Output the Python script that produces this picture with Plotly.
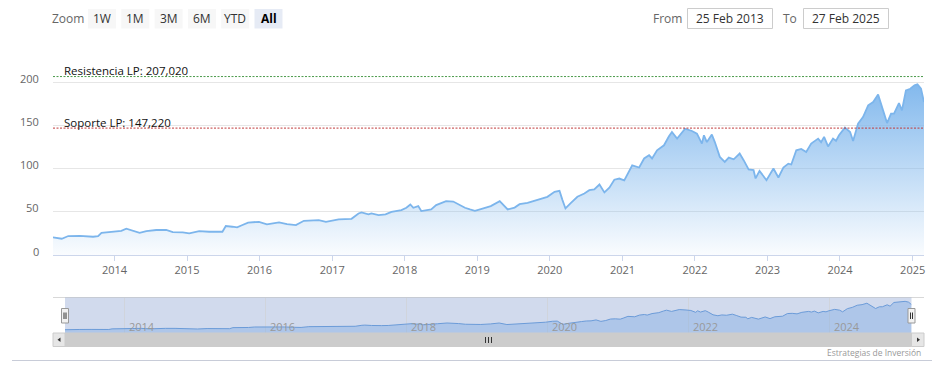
import plotly.graph_objects as go

# ---------------- data ----------------
dates = [
    "2013-02-25", "2013-04-10", "2013-05-13", "2013-07-10", "2013-09-15", "2013-10-10", "2013-10-27",
    "2013-12-24", "2014-02-04", "2014-03-01", "2014-03-26", "2014-05-07", "2014-06-10", "2014-07-30",
    "2014-09-18", "2014-10-21", "2014-12-10", "2015-01-12", "2015-03-03", "2015-04-22", "2015-06-28",
    "2015-07-15", "2015-08-17", "2015-09-10", "2015-10-04", "2015-11-04", "2015-12-29", "2016-02-07",
    "2016-04-08", "2016-05-18", "2016-07-02", "2016-08-11", "2016-10-25", "2016-11-30", "2017-02-02",
    "2017-04-08", "2017-05-13", "2017-05-28", "2017-07-02", "2017-07-17", "2017-08-22", "2017-09-26",
    "2017-10-26", "2017-12-15", "2018-01-09", "2018-01-29", "2018-02-13", "2018-03-10", "2018-03-25",
    "2018-04-19", "2018-05-14", "2018-06-08", "2018-07-28", "2018-09-02", "2018-09-26", "2018-10-31",
    "2018-11-25", "2018-12-20", "2019-01-19", "2019-03-10", "2019-04-24", "2019-06-03", "2019-07-08",
    "2019-08-02", "2019-09-11", "2019-10-16", "2019-11-15", "2019-12-20", "2020-01-25", "2020-02-19",
    "2020-03-05", "2020-03-20", "2020-04-14", "2020-05-19", "2020-06-23", "2020-07-18", "2020-08-12",
    "2020-09-07", "2020-10-02", "2020-10-27", "2020-11-21", "2020-12-16", "2021-01-10", "2021-01-25",
    "2021-02-19", "2021-03-26", "2021-04-20", "2021-05-15", "2021-05-30", "2021-06-24", "2021-07-29",
    "2021-08-23", "2021-09-07", "2021-10-03", "2021-11-12", "2021-12-17", "2022-01-11", "2022-02-05",
    "2022-02-15", "2022-03-02", "2022-03-27", "2022-04-11", "2022-05-06", "2022-05-31", "2022-06-20",
    "2022-07-15", "2022-08-14", "2022-09-03", "2022-09-28", "2022-10-23", "2022-11-02", "2022-11-22",
    "2022-12-27", "2023-01-31", "2023-02-25", "2023-03-22", "2023-04-16", "2023-05-01", "2023-05-26",
    "2023-06-20", "2023-07-15", "2023-08-09", "2023-09-13", "2023-09-28", "2023-10-13", "2023-11-02",
    "2023-11-27", "2023-12-12", "2023-12-27", "2024-01-26", "2024-02-21", "2024-03-07", "2024-04-01",
    "2024-04-26", "2024-05-22", "2024-06-16", "2024-07-11", "2024-08-05", "2024-08-25", "2024-09-14",
    "2024-09-29", "2024-10-24", "2024-11-08", "2024-11-28", "2024-12-20", "2025-01-10", "2025-01-25",
    "2025-02-12", "2025-02-27",
]
prices = [
    20.5, 18.9, 22.0, 22.3, 21.2, 22.0, 25.8,
    27.0, 28.1, 30.5, 29.0, 25.8, 27.8, 29.0,
    29.0, 26.6, 26.2, 25.1, 27.8, 27.0, 27.0,
    33.6, 32.8, 32.0, 34.5, 37.6, 38.5, 35.5,
    37.8, 35.9, 34.7, 39.7, 40.5, 38.5, 41.3,
    42.0, 48.2, 49.4, 47.1, 48.2, 46.3, 47.1,
    50.1, 52.0, 54.8, 58.6, 54.8, 56.7, 51.0,
    52.0, 52.9, 57.9, 62.5, 62.0, 59.0, 54.8,
    52.9, 51.3, 53.3, 56.7, 62.5, 52.9, 55.0,
    59.0, 60.5, 62.9, 65.6, 67.5, 73.3, 74.4,
    63.7, 54.0, 59.8, 67.5, 71.4, 75.2, 76.0,
    81.8, 72.6, 78.0, 87.3, 88.7, 86.5, 92.6,
    104.0, 101.5, 112.0, 115.7, 112.0, 121.5, 127.3,
    137.7, 142.7, 135.0, 146.5, 143.9, 140.8, 129.2,
    138.9, 131.0, 139.7, 131.0, 113.8, 108.0, 113.0,
    111.0, 117.7, 110.0, 99.2, 98.4, 88.8, 97.6,
    86.8, 100.3, 89.9, 101.5, 106.0, 105.0, 121.5,
    123.0, 119.6, 129.2, 135.0, 131.0, 137.0, 126.0,
    135.0, 132.3, 138.9, 147.8, 142.7, 132.3, 152.4,
    160.1, 173.6, 177.4, 186.3, 167.8, 153.1, 164.0,
    164.0, 176.3, 167.8, 191.0, 192.9, 196.8, 198.0,
    192.9, 177.4,
]

resistance_label = "Resistencia LP: 207,020"
resistance_value = 207.02
support_label = "Soporte LP: 147,220"
support_value = 147.22

x_start = "2013-02-25"
x_end = "2025-02-27"
from_text = "25 Feb 2013"
to_text = "27 Feb 2025"

year_ticks = [str(y) for y in range(2014, 2026)]
nav_year_ticks = [str(y) for y in range(2014, 2025, 2)]
y_ticks = [0, 50, 100, 150, 200, 250]
y_tick_labels = ["0", "50", "100", "150", "200"]
zoom_buttons = ["1W", "1M", "3M", "6M", "YTD", "All"]
credit_text = "Estrategias de Inversión"

# ---------------- layout helpers ----------------
# the page body has an 8px margin, so the figure starts at (8, 8) in the window
OFF = 8
W, H = 945 - OFF, 380 - OFF
FONT = "Open Sans"


def px(x):
    return (x - OFF) / W


def py(y):
    return 1 - (y - OFF) / H


fig = go.Figure()

# main area series
fig.add_trace(go.Scatter(
    x=dates, y=prices, mode="lines",
    line=dict(color="#7cb5ec", width=1.8),
    fill="tozeroy",
    fillgradient=dict(type="vertical", start=0, stop=205,
                      colorscale=[[0, "rgba(124,181,236,0.04)"], [1, "rgba(124,181,236,0.98)"]]),
    hoverinfo="skip", showlegend=False, xaxis="x", yaxis="y",
))

# navigator series
fig.add_trace(go.Scatter(
    x=dates, y=prices, mode="lines",
    line=dict(color="#6b9bd8", width=1),
    fill="tozeroy", fillcolor="rgba(110,160,225,0.35)",
    hoverinfo="skip", showlegend=False, xaxis="x2", yaxis="y2",
))

shapes = []
annotations = []

# resistance / support lines
for val, col, lab in [(resistance_value, "#4a9a4a", resistance_label),
                      (support_value, "#c0393b", support_label)]:
    shapes.append(dict(type="line", xref="paper", yref="y", x0=px(53), x1=px(924), y0=val, y1=val,
                       line=dict(color=col, width=1, dash="2px,1.5px"), layer="above"))
    annotations.append(dict(text=lab, xref="paper", yref="y", x=px(62), y=val, xanchor="left",
                            yanchor="middle", yshift=6, showarrow=False,
                            font=dict(family=FONT, size=11.5, color="#111")))

# y-axis labels (offset above the gridlines like Highstock)
for t in y_tick_labels:
    annotations.append(dict(text=t, xref="paper", yref="y", x=px(41), y=float(t), xanchor="right",
                            yanchor="middle", yshift=4, showarrow=False,
                            font=dict(family=FONT, size=11, color="#666")))

# range selector
annotations.append(dict(text="Zoom", xref="paper", yref="paper", x=px(68), y=py(18.5), xanchor="center",
                        yanchor="middle", showarrow=False, font=dict(family=FONT, size=12, color="#666")))
for i, b in enumerate(zoom_buttons):
    x0 = 88 + i * 33.3
    sel = b == "All"
    shapes.append(dict(type="rect", xref="paper", yref="paper", x0=px(x0), x1=px(x0 + 28),
                       y0=py(28.5), y1=py(9), line=dict(width=0),
                       fillcolor="#e6ebf5" if sel else "#f7f7f7", layer="above"))
    annotations.append(dict(text=f"<b>{b}</b>" if sel else b, xref="paper", yref="paper",
                            x=px(x0 + 14), y=py(18.5), xanchor="center", yanchor="middle",
                            showarrow=False,
                            font=dict(family=FONT, size=12, color="#000" if sel else "#333")))

# date inputs
annotations.append(dict(text="From", xref="paper", yref="paper", x=px(667.5), y=py(18.5), xanchor="center",
                        yanchor="middle", showarrow=False, font=dict(family=FONT, size=12, color="#666")))
annotations.append(dict(text="To", xref="paper", yref="paper", x=px(789.5), y=py(18.5), xanchor="center",
                        yanchor="middle", showarrow=False, font=dict(family=FONT, size=12, color="#666")))
for (x0, x1, t) in [(687.5, 772.5, from_text), (803.5, 888.5, to_text)]:
    shapes.append(dict(type="rect", xref="paper", yref="paper", x0=px(x0), x1=px(x1), y0=py(28.5), y1=py(8.5),
                       line=dict(color="#cccccc", width=1), fillcolor="white", layer="above"))
    annotations.append(dict(text=t, xref="paper", yref="paper", x=px((x0 + x1) / 2), y=py(18.5),
                            xanchor="center", yanchor="middle", showarrow=False,
                            font=dict(family=FONT, size=12, color="#333")))

# navigator frame and mask
shapes.append(dict(type="line", xref="paper", yref="paper", x0=px(53), x1=px(924), y0=py(297.5), y1=py(297.5),
                   line=dict(color="#d8d8d8", width=1), layer="below"))
shapes.append(dict(type="rect", xref="paper", yref="paper", x0=px(65), x1=px(911.5), y0=py(333), y1=py(297.5),
                   line=dict(width=0), fillcolor="rgba(102,133,194,0.3)", layer="below"))
# handles
for hx in [65, 911.5]:
    shapes.append(dict(type="rect", xref="paper", yref="paper", x0=px(hx - 3.5), x1=px(hx + 3.5),
                       y0=py(323), y1=py(308.5), line=dict(color="#999999", width=1),
                       fillcolor="#f2f2f2", layer="above"))
    for dx in (-1, 1):
        shapes.append(dict(type="line", xref="paper", yref="paper", x0=px(hx + dx), x1=px(hx + dx),
                           y0=py(319), y1=py(312.5), line=dict(color="#333333", width=1), layer="above"))

# navigator year labels
for t in nav_year_ticks:
    annotations.append(dict(text=t, xref="x2", yref="paper", x=f"{t}-01-01", y=py(326), xanchor="left",
                            yanchor="middle", xshift=2, showarrow=False,
                            font=dict(family=FONT, size=11, color="#999")))

# scrollbar
shapes.append(dict(type="rect", xref="paper", yref="paper", x0=px(53), x1=px(924), y0=py(346.5), y1=py(333),
                   line=dict(width=0), fillcolor="#f2f2f2", layer="above"))
shapes.append(dict(type="rect", xref="paper", yref="paper", x0=px(65), x1=px(911.5), y0=py(346.5), y1=py(333),
                   line=dict(color="#cccccc", width=1), fillcolor="#cccccc", layer="above"))
for bx0, bx1 in [(53, 65), (911.5, 924)]:
    shapes.append(dict(type="rect", xref="paper", yref="paper", x0=px(bx0), x1=px(bx1), y0=py(346.5),
                       y1=py(333), line=dict(color="#cccccc", width=1), fillcolor="#e6e6e6", layer="above"))
# arrows
shapes.append(dict(type="path", xref="paper", yref="paper",
                   path=f"M {px(57.5)} {py(339.75)} L {px(60.5)} {py(337.5)} L {px(60.5)} {py(342)} Z",
                   fillcolor="#333", line=dict(width=0), layer="above"))
shapes.append(dict(type="path", xref="paper", yref="paper",
                   path=f"M {px(920)} {py(339.75)} L {px(917)} {py(337.5)} L {px(917)} {py(342)} Z",
                   fillcolor="#333", line=dict(width=0), layer="above"))
# grip
for gx in (485.5, 488.5, 491.5):
    shapes.append(dict(type="line", xref="paper", yref="paper", x0=px(gx), x1=px(gx), y0=py(343), y1=py(337),
                       line=dict(color="#333", width=1), layer="above"))

# bottom separator and credits
shapes.append(dict(type="line", xref="paper", yref="paper", x0=px(12), x1=px(932), y0=py(360.5), y1=py(360.5),
                   line=dict(color="#c8ccd8", width=1), layer="above"))
annotations.append(dict(text=credit_text, xref="paper", yref="paper", x=px(923), y=py(352.5), xanchor="right",
                        yanchor="middle", showarrow=False, font=dict(family=FONT, size=8.5, color="#999")))

fig.update_layout(
    width=W, height=H, autosize=False,
    margin=dict(l=0, r=0, t=0, b=0),
    paper_bgcolor="white", plot_bgcolor="rgba(0,0,0,0)",
    font=dict(family=FONT, size=11, color="#666"),
    showlegend=False,
    xaxis=dict(domain=[px(53), px(924)], type="date", range=[x_start, x_end],
               tickvals=[f"{t}-01-01" for t in year_ticks], ticktext=year_ticks,
               ticks="outside", ticklen=5, tickcolor="#ccd6eb", showline=True, linecolor="#ccd6eb",
               showgrid=False, zeroline=False, tickfont=dict(family=FONT, size=11, color="#666"),
               anchor="y", fixedrange=True),
    yaxis=dict(domain=[py(255), py(39.5)], range=[0, 250], tickvals=y_ticks, showticklabels=False,
               showgrid=True, gridcolor="#e6e6e6", zeroline=False, showline=False, anchor="x",
               fixedrange=True),
    xaxis2=dict(domain=[px(65), px(911.5)], type="date", range=[x_start, x_end],
                tickvals=[f"{t}-01-01" for t in nav_year_ticks], showticklabels=False, ticks="",
                showgrid=True, gridcolor="#d0d4dc", zeroline=False, showline=False, anchor="y2",
                fixedrange=True),
    yaxis2=dict(domain=[py(333), py(297.5)], range=[0, 222], showticklabels=False, showgrid=False,
                zeroline=False, showline=False, anchor="x2", fixedrange=True),
    shapes=shapes,
    annotations=annotations,
)

fig.write_html("out.html", config={"displayModeBar": False})
